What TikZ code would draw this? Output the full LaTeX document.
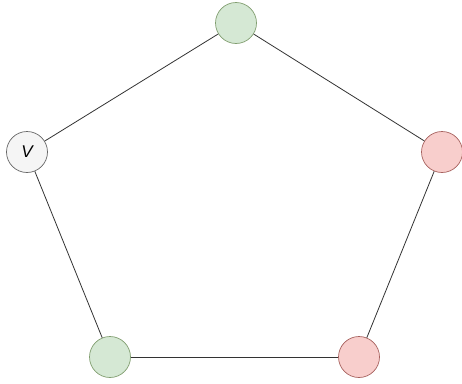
\documentclass[tikz,border=0pt]{standalone}
\usepackage{fontspec}
\setsansfont{Liberation Sans}
\usepackage{xcolor}

\definecolor{greenfill}{HTML}{D5E8D4}
\definecolor{greenline}{HTML}{82B366}
\definecolor{redfill}{HTML}{F8CECC}
\definecolor{redline}{HTML}{B85450}
\definecolor{greyfill}{HTML}{F5F5F5}
\definecolor{greyline}{HTML}{666666}

\tikzset{
  vert/.style={circle, minimum size=41pt, inner sep=0pt, line width=0.7pt},
  greenv/.style={vert, fill=greenfill, draw=greenline!60!gray},
  redv/.style={vert, fill=redfill, draw=redline!70!gray},
  greyv/.style={vert, fill=greyfill, draw=greyline},
  edge/.style={draw=black!80, line width=0.8pt}
}

\begin{document}
\begin{tikzpicture}[x=1pt, y=-1pt]

% Frame
\useasboundingbox (0,0) rectangle (462,383);

% Vertices
\node[greenv] (top) at (236,23) {};
\node[redv] (right) at (442,152) {};
\node[redv] (botright) at (359,357) {};
\node[greenv] (botleft) at (110,357) {};
\node[greyv, font=\sffamily\itshape\fontsize{17}{17}\selectfont] (v) at (27,152) {V};

% Edges
\draw[edge] (v) -- (top);
\draw[edge] (top) -- (right);
\draw[edge] (right) -- (botright);
\draw[edge] (botright) -- (botleft);
\draw[edge] (botleft) -- (v);

\end{tikzpicture}
\end{document}
